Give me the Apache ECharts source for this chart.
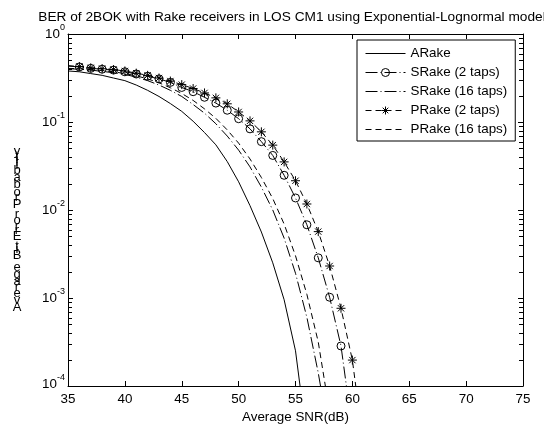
<!DOCTYPE html>
<html>
<head>
<meta charset="utf-8">
<script src="https://cdn.jsdelivr.net/npm/echarts@6/dist/echarts.min.js"></script>
<style>
  html, body { margin: 0; padding: 0; background: #fff; }
  #chart { width: 544px; height: 429px; }
</style>
</head>
<body>
<div id="chart"></div>
<script>
// SNR grid: every curve starts at 35 dB and advances in 1 dB steps
const snrStart = 35;
const xTicks = [35, 40, 45, 50, 55, 60, 65, 70, 75];
const yDecades = [1e-4, 1e-3, 1e-2, 1e-1, 1];

// Bit error rate per curve (35 dB, 36 dB, ...)
const aRake = [0.380, 0.372, 0.355, 0.339, 0.316, 0.295, 0.263, 0.229, 0.195, 0.162,
  0.132, 0.102, 0.0759, 0.0550, 0.0355, 0.0209, 0.0112, 0.00562, 0.00251, 0.000955,
  0.000251, 0.0000251];
const sRake2 = [0.432, 0.422, 0.407, 0.398, 0.389, 0.372, 0.351, 0.331, 0.309, 0.282,
  0.247, 0.221, 0.191, 0.164, 0.136, 0.109, 0.0836, 0.0598, 0.0417, 0.0248,
  0.0137, 0.00679, 0.00286, 0.00102, 0.000285, 0.0000316];
const sRake16 = [0.403, 0.398, 0.389, 0.376, 0.363, 0.347, 0.324, 0.295, 0.263, 0.229,
  0.195, 0.158, 0.126, 0.0955, 0.0692, 0.0479, 0.0309, 0.0182, 0.0100, 0.00479,
  0.00191, 0.000603, 0.000141, 0.0000251];
const pRake2 = [0.437, 0.427, 0.412, 0.403, 0.394, 0.380, 0.359, 0.339, 0.316, 0.292,
  0.266, 0.240, 0.214, 0.188, 0.161, 0.130, 0.103, 0.0773, 0.0546, 0.0352,
  0.0215, 0.0117, 0.00568, 0.00231, 0.000764, 0.000197, 0.0000200];
const pRake16 = [0.407, 0.403, 0.394, 0.385, 0.372, 0.355, 0.335, 0.309, 0.279, 0.245,
  0.211, 0.176, 0.141, 0.110, 0.0813, 0.0575, 0.0380, 0.0234, 0.0135, 0.00692,
  0.00302, 0.00110, 0.000316, 0.0000501];

// Marked curves carry symbols from 36 dB on
const markerStart = 36;

const FONT = "'Liberation Sans', Arial, Helvetica, sans-serif";
const FS = 13.4;
const X_MIN = 35, X_MAX = 75, Y_MIN = 1e-4, Y_MAX = 1;

function toPairs(values, marked) {
  return values.map(function (v, i) {
    const x = snrStart + i;
    if (!marked) return [x, v];
    const item = { value: [x, v] };
    if (x < markerStart || v < Y_MIN) item.symbol = 'none';
    return item;
  });
}

// log-axis minor ticks (2..9 within every decade)
const minorTicks = [];
for (let d = 0; d < yDecades.length - 1; d++) {
  for (let m = 2; m <= 9; m++) minorTicks.push([X_MIN, yDecades[d] * m]);
}

const asterisk = 'path://M5,0L5,10M0,5L10,5M1.5,1.5L8.5,8.5M1.5,8.5L8.5,1.5';

function expLabel(value) {
  const e = Math.round(Math.log10(value));
  if (e === -4) return '{bl|10}{el|' + e + '}';
  return '{b|10}{e|' + e + '}';
}

const axisLineStyle = { color: '#000', width: 1 };
const hiddenMarker = { color: 'rgba(0,0,0,0)', borderColor: 'rgba(0,0,0,0)', borderWidth: 0, opacity: 0 };
const hollowMarker = { color: 'rgba(255,255,255,0)', borderColor: '#000', borderWidth: 1 };

const chart = echarts.init(document.getElementById('chart'), null, { renderer: 'canvas' });

// stacked y-axis title, glyphs advance upward one after another
const yTitle = 'Average Bit Error Probability';
const measure = document.createElement('canvas').getContext('2d');
measure.font = '13px ' + FONT;
const yTitleGlyphs = [];
let advance = 0;
const yTitleBase = 312;
for (const ch of yTitle) {
  const w = measure.measureText(ch).width;
  if (ch !== ' ') {
    yTitleGlyphs.push({
      type: 'text',
      x: 17,
      y: yTitleBase - advance - w / 2,
      style: {
        text: ch, font: '13px ' + FONT, fill: '#000',
        textAlign: 'center', textVerticalAlign: 'middle'
      },
      silent: true
    });
  }
  advance += w;
}

const option = {
  animation: false,
  backgroundColor: '#fff',
  textStyle: { fontFamily: FONT },
  grid: { left: 68, right: 21, top: 34, bottom: 37, containLabel: false },
  graphic: [
    {
      type: 'text', x: 292, y: 17,
      style: {
        text: 'BER of 2BOK with Rake receivers in LOS CM1 using Exponential-Lognormal model',
        font: '13.7px ' + FONT, fill: '#000', textAlign: 'center', textVerticalAlign: 'middle'
      },
      silent: true
    }
  ].concat(yTitleGlyphs),
  legend: {
    data: [
      { name: 'ARake', itemStyle: hiddenMarker },
      { name: 'SRake (2 taps)', itemStyle: hollowMarker },
      { name: 'SRake (16 taps)', itemStyle: hiddenMarker },
      { name: 'PRake (2 taps)', itemStyle: hollowMarker },
      { name: 'PRake (16 taps)', itemStyle: hiddenMarker }
    ],
    orient: 'vertical',
    left: 357, top: 40,
    padding: [6.5, 8, 4.5, 8],
    itemGap: 5,
    itemWidth: 40,
    itemHeight: 10,
    lineStyle: { width: 1 },
    borderColor: '#000', borderWidth: 1, borderRadius: 0,
    backgroundColor: '#fff',
    selectedMode: false,
    textStyle: { fontSize: FS, color: '#000', fontFamily: FONT, lineHeight: 14 }
  },
  xAxis: [
    {
      type: 'value', min: X_MIN, max: X_MAX, interval: 5, position: 'bottom',
      axisLine: { lineStyle: axisLineStyle },
      axisTick: { inside: true, length: 5, lineStyle: axisLineStyle },
      axisLabel: { color: '#000', fontSize: FS, margin: 7, fontFamily: FONT,
        formatter: function (v) { return xTicks.indexOf(v) >= 0 ? String(v) : ''; } },
      splitLine: { show: false },
      name: 'Average SNR(dB)', nameLocation: 'middle', nameGap: 25,
      nameTextStyle: { color: '#000', fontSize: FS, fontFamily: FONT }
    },
    {
      type: 'value', min: X_MIN, max: X_MAX, interval: 5, position: 'top',
      axisLine: { lineStyle: axisLineStyle },
      axisTick: { inside: true, length: 5, lineStyle: axisLineStyle },
      axisLabel: { show: false },
      splitLine: { show: false }
    }
  ],
  yAxis: [
    {
      type: 'log', logBase: 10, min: Y_MIN, max: Y_MAX, position: 'left',
      axisLine: { lineStyle: axisLineStyle },
      axisTick: { inside: true, length: 5, lineStyle: axisLineStyle },
      axisLabel: {
        color: '#000', margin: 3, fontFamily: FONT,
        formatter: expLabel,
        rich: {
          b: { fontSize: FS, fontFamily: FONT, color: '#000', padding: [4, 0, 4, 0] },
          e: { fontSize: 9, fontFamily: FONT, color: '#000', verticalAlign: 'top' },
          bl: { fontSize: FS, fontFamily: FONT, color: '#000', padding: [4, 0, 8, 0] },
          el: { fontSize: 9, fontFamily: FONT, color: '#000', verticalAlign: 'top' }
        }
      },
      splitLine: { show: false }
    },
    {
      type: 'log', logBase: 10, min: Y_MIN, max: Y_MAX, position: 'right',
      axisLine: { lineStyle: axisLineStyle },
      axisTick: { inside: true, length: 5, lineStyle: axisLineStyle },
      axisLabel: { show: false },
      splitLine: { show: false }
    }
  ],
  series: [
    {
      name: 'minor ticks', type: 'custom', xAxisIndex: 0, yAxisIndex: 0,
      silent: true, clip: false,
      data: minorTicks,
      renderItem: function (params, api) {
        const v = api.value(1);
        const l = api.coord([X_MIN, v]);
        const r = api.coord([X_MAX, v]);
        const y = Math.round(l[1]) + 0.5;
        return {
          type: 'group',
          children: [
            { type: 'line', shape: { x1: l[0], y1: y, x2: l[0] + 4, y2: y }, style: { stroke: '#000', lineWidth: 1 } },
            { type: 'line', shape: { x1: r[0] - 4, y1: y, x2: r[0], y2: y }, style: { stroke: '#000', lineWidth: 1 } }
          ]
        };
      }
    },
    {
      name: 'ARake', type: 'line', data: toPairs(aRake, false),
      symbol: 'none', clip: true, color: '#000',
      lineStyle: { color: '#000', width: 1, type: 'solid' }
    },
    {
      name: 'SRake (2 taps)', type: 'line', data: toPairs(sRake2, true),
      symbol: 'circle', symbolSize: 8, showAllSymbol: true, clip: true, color: '#000',
      itemStyle: hollowMarker,
      lineStyle: { color: '#000', width: 1, type: [12, 3, 1, 3] }
    },
    {
      name: 'SRake (16 taps)', type: 'line', data: toPairs(sRake16, false),
      symbol: 'none', clip: true, color: '#000',
      lineStyle: { color: '#000', width: 1, type: [12, 3, 1, 3] }
    },
    {
      name: 'PRake (2 taps)', type: 'line', data: toPairs(pRake2, true),
      symbol: asterisk, symbolSize: 9, showAllSymbol: true, clip: true, color: '#000',
      itemStyle: { color: 'rgba(0,0,0,0)', borderColor: '#000', borderWidth: 1 },
      lineStyle: { color: '#000', width: 1, type: [6, 4] }
    },
    {
      name: 'PRake (16 taps)', type: 'line', data: toPairs(pRake16, false),
      symbol: 'none', clip: true, color: '#000',
      lineStyle: { color: '#000', width: 1, type: [6, 4] }
    }
  ]
};

chart.setOption(option);
</script>
</body>
</html>
